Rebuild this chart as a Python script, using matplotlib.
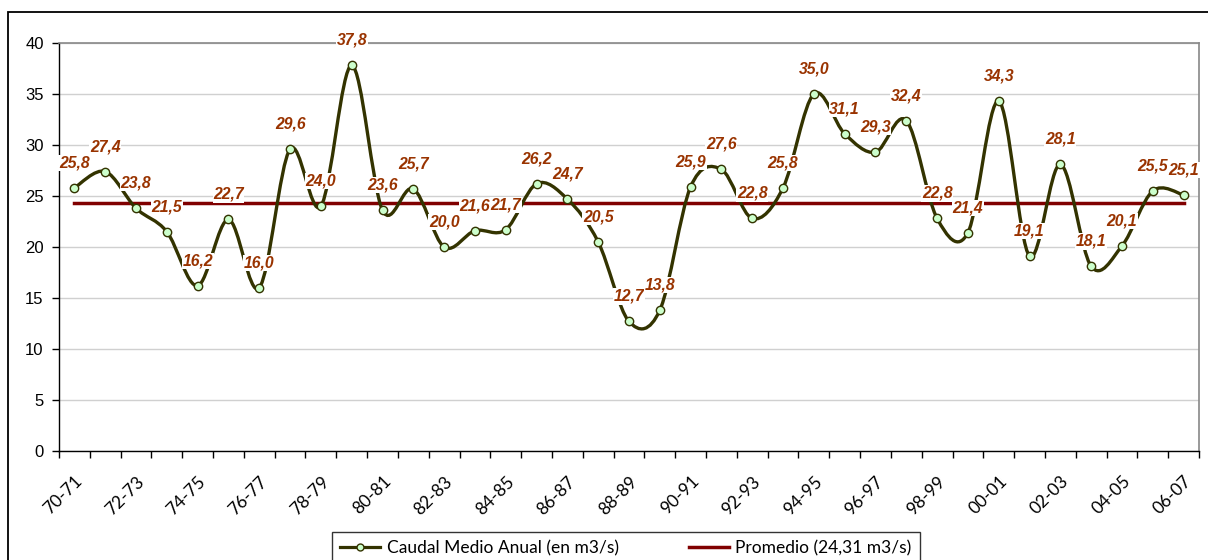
import numpy as np
import matplotlib
matplotlib.use("Agg")
import matplotlib.pyplot as plt
from matplotlib.lines import Line2D
from matplotlib.patches import Rectangle
from matplotlib.path import Path
from matplotlib.patches import PathPatch

# ---- data ----
years = ["70-71", "71-72", "72-73", "73-74", "74-75", "75-76", "76-77", "77-78",
         "78-79", "79-80", "80-81", "81-82", "82-83", "83-84", "84-85", "85-86",
         "86-87", "87-88", "88-89", "89-90", "90-91", "91-92", "92-93", "93-94",
         "94-95", "95-96", "96-97", "97-98", "98-99", "99-00", "00-01", "01-02",
         "02-03", "03-04", "04-05", "05-06", "06-07"]
caudal = [25.8, 27.4, 23.8, 21.5, 16.2, 22.7, 16.0, 29.6, 24.0, 37.8,
          23.6, 25.7, 20.0, 21.6, 21.7, 26.2, 24.7, 20.5, 12.7, 13.8,
          25.9, 27.6, 22.8, 25.8, 35.0, 31.1, 29.3, 32.4, 22.8, 21.4,
          34.3, 19.1, 28.1, 18.1, 20.1, 25.5, 25.1]
promedio = 24.31

line_col = "#333300"
avg_col = "#800000"
lab_col = "#993300"

fig = plt.figure(figsize=(12.08, 5.6), dpi=100)
ax = fig.add_axes([59/1208, 1-451/560, (1199-59)/1208, (451-43)/560])

x = np.arange(len(caudal))
y = np.array(caudal)

# smoothed line like excel (bezier through the points)
verts = [(x[0], y[0])]
codes = [Path.MOVETO]
n = len(x)
for i in range(n-1):
    p0 = np.array([x[max(i-1, 0)], y[max(i-1, 0)]])
    p1 = np.array([x[i], y[i]])
    p2 = np.array([x[i+1], y[i+1]])
    p3 = np.array([x[min(i+2, n-1)], y[min(i+2, n-1)]])
    b1 = p1 + (p2 - p0) / 6
    b2 = p2 - (p3 - p1) / 6
    verts += [tuple(b1), tuple(b2), tuple(p2)]
    codes += [Path.CURVE4] * 3
ax.add_patch(PathPatch(Path(verts, codes), fc="none", ec=line_col, lw=2.4, zorder=3))
ax.plot(x, y, ls="none", marker="o", ms=6, mfc="#ccffcc", mec=line_col, mew=1, zorder=4)

ax.plot(x, [promedio]*n, color=avg_col, lw=2.5, zorder=2)

for xi, yi in zip(x, y):
    ax.annotate(f"{yi:.1f}".replace(".", ","), (xi, yi), xytext=(0, 18),
                textcoords="offset points", ha="center", va="center",
                fontsize=11.3, fontweight="bold", fontstyle="italic",
                family="Liberation Sans", color=lab_col, zorder=6,
                bbox=dict(boxstyle="square,pad=0.04", fc="white", ec="none"))

ax.set_xlim(-0.5, n-0.5)
ax.set_ylim(0, 40)
ax.set_yticks(np.arange(0, 41, 5))
ax.yaxis.grid(True, color="#d0d0d0", lw=1)
ax.set_axisbelow(True)
for lbl in ax.get_yticklabels():
    lbl.set_family("Liberation Sans")
    lbl.set_fontsize(12)
ax.tick_params(axis="y", length=5, width=1, pad=6)

ax.set_xticks(np.arange(-0.5, n, 1))
ax.set_xticklabels([])
ax.tick_params(axis="x", which="major", length=5, width=1)
ax.set_xticks(x[::2], minor=True)
ax.set_xticklabels(years[::2], minor=True, rotation=45, ha="right",
                   rotation_mode="anchor", family="Lato", fontsize=12.5)
ax.tick_params(axis="x", which="minor", length=0, pad=16)

for s in ["top", "right"]:
    ax.spines[s].set_color("#888888")
    ax.spines[s].set_linewidth(1.2)
for s in ["left", "bottom"]:
    ax.spines[s].set_color("black")
    ax.spines[s].set_linewidth(1)

h1 = Line2D([], [], color=line_col, lw=2.3, marker="o", ms=5, mfc="#ccffcc", mec=line_col)
h2 = Line2D([], [], color=avg_col, lw=2.5)
leg = fig.legend([h1, h2], ["Caudal Medio Anual (en m3/s)", "Promedio (24,31 m3/s)"],
                 loc="upper center", bbox_to_anchor=(626/1208, 1-532/560), ncol=2,
                 frameon=True, fancybox=False, edgecolor="black", prop={"family": "Lato", "size": 12.5},
                 handlelength=2.3, columnspacing=4.0, borderpad=0.45, handletextpad=0.4,
                 borderaxespad=0)
leg.get_frame().set_linewidth(1)

# outer chart border
fig.patches.append(Rectangle((8/1208, -0.2), 1.1, 1.2 - 12/560, transform=fig.transFigure,
                             fill=False, ec="black", lw=1.3))

fig.savefig("out.png", dpi=100)
